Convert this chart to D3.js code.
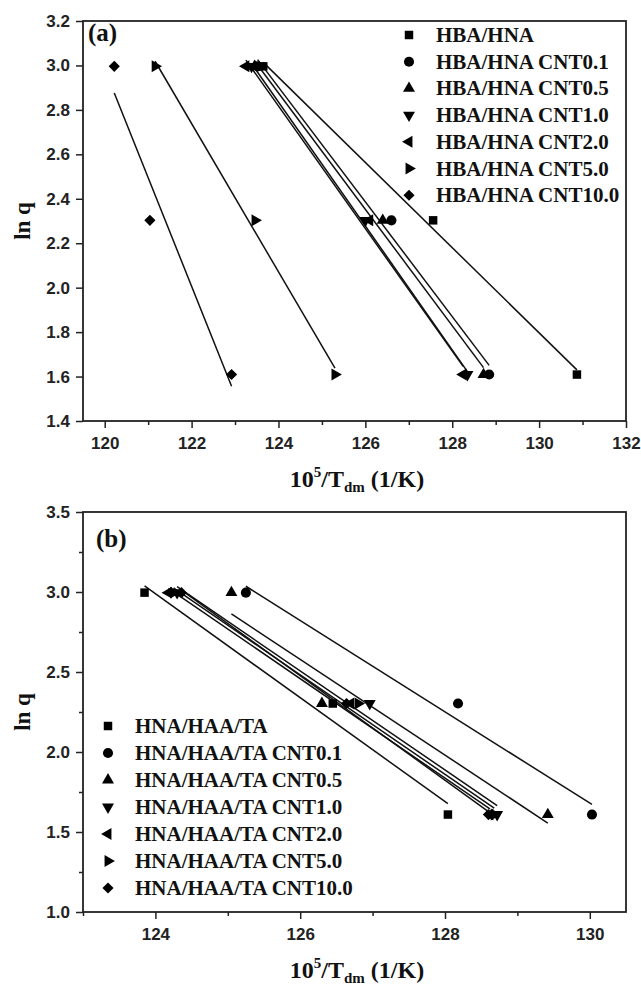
<!DOCTYPE html>
<html><head><meta charset="utf-8">
<script src="https://cdn.jsdelivr.net/npm/d3@7"></script>
<style>
html,body{margin:0;padding:0;background:#fff;}
svg{display:block;}
</style></head>
<body>
<svg id="c" width="641" height="988"></svg>
<script>
// ---------- data ----------
const lnq = [2.996, 2.303, 1.609];

const namesA = ["HBA/HNA","HBA/HNA CNT0.1","HBA/HNA CNT0.5","HBA/HNA CNT1.0","HBA/HNA CNT2.0","HBA/HNA CNT5.0","HBA/HNA CNT10.0"];
const a_HBA    = [123.65, 127.56, 130.87];
const a_CNT01  = [123.52, 126.60, 128.85];
const a_CNT05  = [123.45, 126.40, 128.72];
const a_CNT10  = [123.38, 126.00, 128.35];
const a_CNT20  = [123.25, 126.10, 128.25];
const a_CNT50  = [121.16, 123.46, 125.30];
const a_CNT100 = [120.22, 121.04, 122.92];

const namesB = ["HNA/HAA/TA","HNA/HAA/TA CNT0.1","HNA/HAA/TA CNT0.5","HNA/HAA/TA CNT1.0","HNA/HAA/TA CNT2.0","HNA/HAA/TA CNT5.0","HNA/HAA/TA CNT10.0"];
const b_HNA    = [123.85, 126.45, 128.04];
const b_CNT01  = [125.25, 128.18, 130.03];
const b_CNT05  = [125.05, 126.30, 129.42];
const b_CNT10  = [124.30, 126.96, 128.72];
const b_CNT20  = [124.18, 126.70, 128.62];
const b_CNT50  = [124.25, 126.80, 128.68];
const b_CNT100 = [124.36, 126.64, 128.60];

const xTicksA = [120,122,124,126,128,130,132];
const xMinorA = [121,123,125,127,129,131];
const yTicksA = [1.4,1.6,1.8,2.0,2.2,2.4,2.6,2.8,3.0,3.2];
const xTicksB = [124,126,128,130];
const xMinorB = [123,125,127,129];
const yTicksB = [1.0,1.5,2.0,2.5,3.0,3.5];
const yMinorB = [1.25,1.75,2.25,2.75,3.25];

const symbolKinds = ["square","circle","up","down","left","right","diamond"];

// ---------- drawing ----------
const svg = d3.select("#c");
const serif = "'Liberation Serif','Times New Roman',serif";
const sans = "'Liberation Sans',Arial,sans-serif";

function symPath(kind){
  if(kind==="square") return {d:d3.symbol(d3.symbolSquare,72)(), r:0};
  if(kind==="circle") return {d:d3.symbol(d3.symbolCircle,80)(), r:0};
  if(kind==="diamond") return {d:d3.symbol(d3.symbolSquare,62)(), r:45};
  const t = d3.symbol(d3.symbolTriangle,62)();
  const r = {up:0, down:180, left:-90, right:90}[kind];
  return {d:t, r:r};
}

function fit(xs, ys){
  const mx=d3.mean(xs), my=d3.mean(ys);
  let sxy=0,sxx=0;
  xs.forEach((x,i)=>{sxy+=(x-mx)*(ys[i]-my); sxx+=(x-mx)*(x-mx);});
  const b=sxy/sxx, a=my-b*mx;
  const x0=d3.min(xs), x1=d3.max(xs);
  return [[x0,a+b*x0],[x1,a+b*x1]];
}

function panel(opt){
  const g = svg.append("g");
  const x = opt.x, y = opt.y;
  const [x0,x1]=x.range(), [y0,y1]=y.range();
  // minor ticks
  g.append("g").attr("transform",`translate(0,${y0})`)
    .call(d3.axisBottom(x).tickValues(opt.xMinor).tickSize(4).tickFormat(""))
    .call(s=>{s.select(".domain").remove(); s.selectAll("line").attr("stroke","#222").attr("stroke-width",1.5);});
  if(opt.yMinor){
    g.append("g").attr("transform",`translate(${x0},0)`)
      .call(d3.axisLeft(y).tickValues(opt.yMinor).tickSize(4).tickFormat(""))
      .call(s=>{s.select(".domain").remove(); s.selectAll("line").attr("stroke","#222").attr("stroke-width",1.5);});
  }
  // major
  g.append("g").attr("transform",`translate(0,${y0})`)
    .call(d3.axisBottom(x).tickValues(opt.xTicks).tickSize(7).tickPadding(9).tickFormat(d3.format("d")))
    .call(s=>{s.select(".domain").remove(); s.selectAll("line").attr("stroke","#222").attr("stroke-width",1.5);
      s.selectAll("text").attr("font-family",sans).attr("font-weight","bold").attr("font-size",17).attr("fill","#222");});
  g.append("g").attr("transform",`translate(${x0},0)`)
    .call(d3.axisLeft(y).tickValues(opt.yTicks).tickSize(7).tickPadding(6).tickFormat(d3.format(".1f")))
    .call(s=>{s.select(".domain").remove(); s.selectAll("line").attr("stroke","#222").attr("stroke-width",1.5);
      s.selectAll("text").attr("font-family",sans).attr("font-weight","bold").attr("font-size",17).attr("fill","#222");});
  // box
  g.append("rect").attr("x",x0).attr("y",y1).attr("width",x1-x0).attr("height",y0-y1)
    .attr("fill","none").attr("stroke","#222").attr("stroke-width",1.8);

  // fit lines
  opt.series.forEach(xs=>{
    const p = fit(xs, lnq);
    g.append("line").attr("x1",x(p[0][0])).attr("y1",y(p[0][1]))
      .attr("x2",x(p[1][0])).attr("y2",y(p[1][1]))
      .attr("stroke","#111").attr("stroke-width",1.5);
  });
  // points
  opt.series.forEach((xs,i)=>{
    const s = symPath(symbolKinds[i]);
    xs.forEach((v,j)=>{
      g.append("path").attr("d",s.d)
        .attr("transform",`translate(${x(v)},${y(lnq[j])}) rotate(${s.r})`)
        .attr("fill","#000");
    });
  });
  // legend
  opt.names.forEach((n,i)=>{
    const ly = opt.legY + i*opt.legDy;
    const s = symPath(symbolKinds[i]);
    g.append("path").attr("d",s.d).attr("transform",`translate(${opt.legX},${ly}) rotate(${s.r})`).attr("fill","#000");
    g.append("text").attr("x",opt.legX+27).attr("y",ly+7).text(n)
      .attr("font-family",serif).attr("font-weight","bold").attr("font-size",21).attr("fill","#111");
  });
  // panel label
  g.append("text").attr("x",opt.labX).attr("y",opt.labY).text(opt.label)
    .attr("font-family",serif).attr("font-weight","bold").attr("font-size",25).attr("fill","#111");
  // y title
  g.append("text").attr("transform",`translate(30,${(y0+y1)/2}) rotate(-90)`)
    .attr("text-anchor","middle").text("ln q")
    .attr("font-family",serif).attr("font-weight","bold").attr("font-size",23).attr("fill","#111");
  // x title
  const t = g.append("text").attr("x",357).attr("y",y0+66).attr("text-anchor","middle")
    .attr("font-family",serif).attr("font-weight","bold").attr("font-size",24).attr("fill","#111");
  t.append("tspan").text("10");
  t.append("tspan").attr("font-size",15).attr("dy",-10).text("5");
  t.append("tspan").attr("dy",10).text("/T");
  t.append("tspan").attr("font-size",15).attr("dy",5).text("dm");
  t.append("tspan").attr("dy",-5).text(" (1/K)");
}

panel({
  x: d3.scaleLinear([119.5,132],[83,626]),
  y: d3.scaleLinear([1.4,3.2],[421,21]),
  xTicks:xTicksA, xMinor:xMinorA, yTicks:yTicksA, yMinor:null,
  series:[a_HBA,a_CNT01,a_CNT05,a_CNT10,a_CNT20,a_CNT50,a_CNT100],
  names:namesA, legX:409, legY:35, legDy:26.7, label:"(a)", labX:88, labY:41
});
panel({
  x: d3.scaleLinear([123,130.5],[83,626]),
  y: d3.scaleLinear([1.0,3.5],[912,512]),
  xTicks:xTicksB, xMinor:xMinorB, yTicks:yTicksB, yMinor:yMinorB,
  series:[b_HNA,b_CNT01,b_CNT05,b_CNT10,b_CNT20,b_CNT50,b_CNT100],
  names:namesB, legX:108, legY:726, legDy:27, label:"(b)", labX:96, labY:547
});
</script>
</body></html>
